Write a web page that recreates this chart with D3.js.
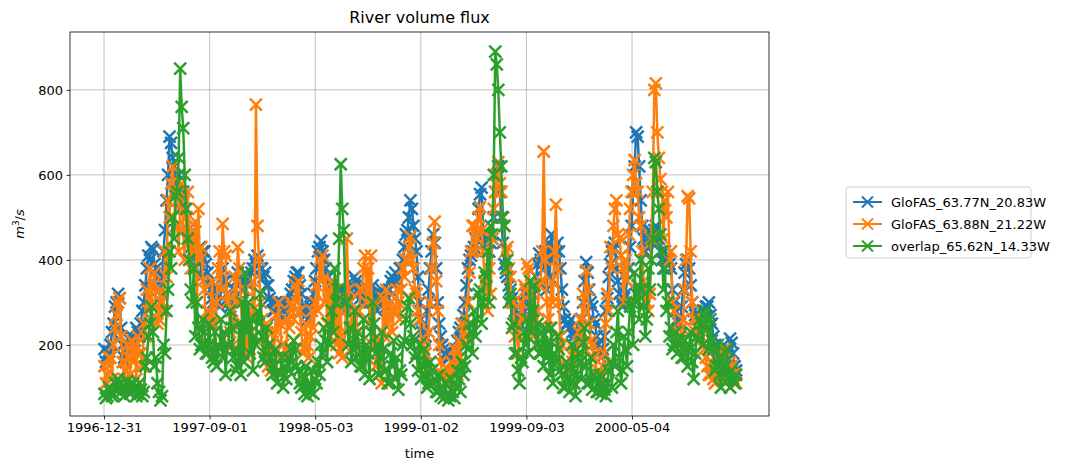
<!DOCTYPE html>
<html>
<head>
<meta charset="utf-8">
<script src="https://cdn.jsdelivr.net/npm/d3@7"></script>
<style>
  body { margin: 0; background: #fff; }
  svg { font-family: 'DejaVu Sans', sans-serif; }
</style>
</head>
<body>
<svg id="chart" width="1075" height="470"></svg>
<script>
// half-weekly samples starting 1997-01-01, 20 values (10 weeks) per row
const startDate = '1997-01-01';
const stepDays = 3.5;

const seriesNames = ['GloFAS_63.77N_20.83W', 'GloFAS_63.88N_21.22W', 'overlap_65.62N_14.33W'];
const seriesColors = ['#1f77b4', '#ff7f0e', '#2ca02c'];

const glofasA = [
  190, 160, 175, 185, 200, 230, 250, 290, 300, 320, 310, 240, 200, 170, 160, 190, 190, 210, 220, 200,
  210, 240, 230, 220, 250, 280, 300, 340, 380, 410, 400, 430, 425, 390, 380, 340, 330, 300, 360, 420,
  470, 540, 600, 690, 675, 640, 620, 580, 560, 600, 520, 560, 560, 520, 500, 470, 450, 430, 420, 440,
  380, 410, 400, 430, 360, 420, 420, 390, 370, 340, 330, 310, 300, 340, 320, 300, 290, 330, 380, 350,
  350, 320, 300, 290, 280, 310, 330, 350, 370, 340, 350, 330, 330, 350, 360, 340, 340, 370, 380, 400,
  390, 410, 400, 380, 380, 360, 370, 340, 340, 310, 300, 280, 280, 300, 270, 290, 290, 300, 260, 280,
  280, 300, 300, 320, 330, 350, 360, 370, 370, 340, 320, 290, 280, 270, 260, 280, 290, 300, 320, 350,
  380, 420, 430, 445, 420, 400, 380, 360, 360, 340, 340, 320, 320, 300, 300, 330, 330, 310, 290, 280,
  310, 320, 330, 340, 340, 360, 350, 330, 330, 310, 300, 320, 340, 330, 310, 300, 320, 340, 300, 320,
  280, 300, 310, 330, 300, 320, 290, 310, 330, 350, 360, 340, 370, 350, 350, 380, 380, 400, 430, 460,
  470, 500, 540, 520, 480, 450, 420, 360, 300, 260, 230, 210, 220, 280, 330, 380, 420, 460, 440, 380,
  300, 250, 220, 200, 190, 180, 180, 170, 170, 160, 160, 180, 190, 210, 230, 240, 250, 270, 300, 340,
  380, 400, 410, 420, 430, 450, 470, 520, 555, 570, 460, 440, 440, 460, 420, 440, 450, 500, 560, 600,
  620, 560, 500, 440, 390, 370, 360, 340, 330, 310, 300, 280, 270, 260, 250, 270, 280, 300, 320, 330,
  290, 280, 300, 320, 330, 360, 390, 415, 400, 390, 380, 420, 330, 440, 360, 460, 400, 430, 420, 440,
  420, 380, 330, 290, 260, 250, 250, 240, 260, 230, 220, 230, 230, 220, 210, 260, 300, 350, 395, 370,
  330, 300, 290, 260, 250, 220, 200, 190, 170, 190, 220, 280, 310, 360, 390, 420, 430, 440, 380, 350,
  320, 300, 290, 310, 320, 350, 380, 430, 480, 560, 620, 700, 690, 620, 540, 480, 450, 420, 430, 460,
  470, 450, 460, 470, 480, 440, 450, 420, 400, 380, 420, 410, 400, 390, 380, 330, 300, 280, 260, 250,
  250, 290, 330, 370, 390, 400, 380, 340, 300, 280, 270, 260, 250, 270, 260, 280, 270, 290, 290, 300,
  270, 250, 220, 200, 190, 185, 180, 175, 170, 180, 160, 190, 190, 215, 205, 180, 150, 140
];

const glofasB = [
  150, 110, 130, 170, 170, 120, 200, 240, 270, 300, 310, 220, 160, 120, 140, 200, 170, 130, 210, 160,
  200, 120, 220, 180, 180, 150, 250, 220, 330, 280, 380, 300, 340, 370, 290, 250, 260, 330, 300, 280,
  420, 360, 540, 500, 580, 620, 560, 480, 480, 420, 530, 580, 470, 400, 500, 560, 440, 380, 470, 420,
  490, 300, 520, 400, 430, 350, 330, 250, 280, 200, 270, 350, 250, 190, 300, 380, 420, 330, 485, 420,
  410, 300, 320, 230, 280, 200, 360, 300, 430, 380, 300, 250, 200, 330, 170, 280, 190, 230, 350, 260,
  765, 480, 400, 300, 260, 220, 190, 250, 150, 200, 140, 230, 180, 270, 230, 300, 250, 200, 200, 170,
  190, 260, 240, 300, 290, 260, 340, 300, 350, 280, 230, 180, 190, 250, 200, 170, 220, 280, 240, 300,
  340, 280, 400, 350, 410, 300, 360, 250, 330, 220, 350, 240, 330, 200, 300, 180, 280, 170, 200, 230,
  450, 330, 300, 240, 260, 200, 240, 280, 280, 330, 330, 380, 410, 300, 380, 250, 410, 200, 300, 150,
  220, 130, 200, 110, 310, 220, 330, 250, 260, 300, 230, 280, 280, 330, 300, 260, 330, 380, 360, 400,
  400, 430, 455, 400, 380, 330, 320, 280, 260, 200, 200, 150, 180, 140, 230, 300, 380, 440, 490, 350,
  280, 200, 160, 130, 130, 115, 115, 140, 120, 160, 140, 190, 170, 130, 210, 170, 250, 200, 220, 260,
  300, 370, 420, 480, 480, 420, 450, 500, 525, 470, 420, 350, 340, 280, 380, 320, 450, 520, 560, 600,
  630, 580, 560, 500, 480, 420, 430, 380, 360, 300, 300, 220, 250, 180, 220, 300, 260, 340, 330, 390,
  380, 320, 300, 220, 260, 200, 280, 340, 350, 420, 655, 400, 300, 260, 240, 350, 300, 420, 530, 380,
  300, 220, 200, 150, 150, 120, 120, 110, 200, 160, 170, 190, 190, 230, 260, 200, 320, 280, 375, 330,
  250, 210, 200, 170, 180, 130, 140, 110, 130, 150, 180, 250, 320, 280, 430, 380, 480, 520, 540, 460,
  450, 410, 380, 300, 400, 350, 460, 520, 560, 600, 635, 580, 560, 500, 480, 420, 350, 300, 300, 280,
  320, 450, 560, 800, 815, 700, 640, 590, 560, 450, 540, 500, 560, 400, 420, 300, 280, 230, 230, 200,
  210, 240, 260, 330, 400, 550, 545, 420, 300, 260, 230, 260, 210, 250, 220, 240, 190, 170, 150, 130,
  130, 160, 120, 110, 150, 180, 140, 120, 160, 190, 140, 120, 120, 160, 150, 130, 130, 110
];

const overlap = [
  85, 75, 80, 100, 90, 80, 85, 110, 95, 120, 110, 90, 100, 80, 95, 115, 105, 85, 90, 110,
  100, 80, 85, 110, 95, 80, 90, 150, 170, 220, 250, 290, 230, 150, 170, 110, 90, 70, 80, 200,
  180, 280, 330, 420, 380, 500, 450, 550, 560, 640, 850, 760, 710, 600, 520, 450, 400, 330, 300, 380,
  220, 300, 240, 190, 200, 260, 230, 180, 180, 250, 200, 170, 160, 230, 150, 200, 190, 260, 170, 230,
  130, 200, 200, 280, 240, 170, 190, 140, 150, 250, 130, 300, 160, 370, 230, 300, 180, 260, 140, 220,
  200, 280, 250, 320, 220, 170, 160, 240, 200, 170, 170, 130, 150, 190, 110, 140, 130, 170, 100, 150,
  120, 170, 140, 190, 160, 210, 190, 150, 140, 110, 100, 130, 85, 150, 80, 110, 90, 140, 85, 120,
  110, 160, 130, 200, 180, 240, 210, 160, 250, 200, 280, 230, 380, 300, 330, 450, 625, 520, 470, 300,
  300, 200, 240, 160, 190, 280, 170, 230, 200, 150, 150, 260, 130, 200, 180, 120, 230, 300, 250, 180,
  200, 130, 170, 230, 190, 140, 140, 110, 110, 180, 150, 210, 120, 170, 95, 140, 130, 200, 210, 260,
  290, 310, 250, 200, 220, 170, 180, 140, 200, 120, 150, 190, 130, 100, 110, 160, 140, 110, 120, 90,
  90, 130, 80, 100, 75, 110, 85, 70, 80, 120, 90, 75, 100, 140, 120, 90, 160, 130, 150, 200,
  190, 250, 230, 180, 280, 220, 260, 320, 330, 250, 300, 370, 360, 420, 300, 480, 460, 600, 890, 860,
  800, 700, 620, 500, 480, 380, 400, 300, 320, 240, 250, 180, 180, 140, 110, 170, 160, 230, 200, 260,
  180, 350, 230, 280, 340, 200, 250, 180, 180, 230, 150, 240, 170, 210, 130, 240, 110, 180, 160, 220,
  190, 140, 130, 100, 100, 160, 120, 90, 150, 200, 110, 80, 130, 180, 160, 120, 205, 240, 150, 110,
  110, 170, 95, 130, 120, 90, 90, 130, 85, 110, 95, 80, 110, 140, 160, 100, 200, 150, 230, 280,
  170, 110, 140, 220, 190, 150, 230, 290, 300, 200, 370, 300, 340, 260, 400, 330, 290, 220, 260, 380,
  330, 400, 450, 640, 630, 560, 520, 460, 420, 330, 380, 280, 300, 220, 240, 190, 200, 230, 180, 210,
  220, 170, 170, 210, 190, 150, 200, 230, 160, 120, 180, 220, 210, 260, 250, 200, 270, 280, 240, 190,
  260, 210, 190, 140, 150, 200, 130, 100, 170, 130, 150, 190, 120, 100, 140, 120, 110, 130
];

const xTickLabels = ['1996-12-31', '1997-09-01', '1998-05-03', '1999-01-02', '1999-09-03', '2000-05-04'];
const yTickValues = [200, 400, 600, 800];

const margin = {top: 32, right: 306, bottom: 54, left: 70};
const width = 1075 - margin.left - margin.right;
const height = 470 - margin.top - margin.bottom;

const parse = d3.utcParse('%Y-%m-%d');
const day = 864e5;
const t0 = parse(startDate);

/**
 *  Build date/value pairs for one series.
 *  @param {number[]} values half-weekly values
 *  @return {object[]} points
 */
function toPoints(values) {
  return values.map((v, i) => ({date: new Date(+t0 + i * stepDays * day), value: v}));
}

const allSeries = [glofasA, glofasB, overlap].map((vals, i) => ({
  name: seriesNames[i],
  color: seriesColors[i],
  points: toPoints(vals),
}));

const ref = parse(xTickLabels[0]);
const x = d3.scaleUtc()
    .domain([new Date(+ref - 78.6 * day), new Date(+ref + 1536.5 * day)])
    .range([0, width]);
const y = d3.scaleLinear()
    .domain([33, 936])
    .range([height, 0]);

const svg = d3.select('#chart');
const g = svg.append('g')
    .attr('transform', `translate(${margin.left},${margin.top})`);

// grid
g.append('g').selectAll('line')
    .data(xTickLabels.map(parse))
    .enter().append('line')
    .attr('x1', (d) => x(d)).attr('x2', (d) => x(d))
    .attr('y1', 0).attr('y2', height)
    .style('stroke', '#b0b0b0').style('stroke-width', 0.8);
g.append('g').selectAll('line')
    .data(yTickValues)
    .enter().append('line')
    .attr('y1', (d) => y(d)).attr('y2', (d) => y(d))
    .attr('x1', 0).attr('x2', width)
    .style('stroke', '#b0b0b0').style('stroke-width', 0.8);

const line = d3.line()
    .x((d) => x(d.date))
    .y((d) => y(d.value));

g.append('clipPath').attr('id', 'plotclip')
    .append('rect').attr('width', width).attr('height', height);

const plot = g.append('g').attr('clip-path', 'url(#plotclip)');

const ms = 6;
const xMarker = `M${-ms},${-ms}L${ms},${ms}M${-ms},${ms}L${ms},${-ms}`;

allSeries.forEach((s) => {
  const sg = plot.append('g');
  sg.append('path')
      .datum(s.points)
      .attr('d', line)
      .style('fill', 'none')
      .style('stroke', s.color)
      .style('stroke-width', 2.5)
      .style('stroke-linejoin', 'round');
  sg.selectAll('path.mk')
      .data(s.points)
      .enter().append('path')
      .attr('class', 'mk')
      .attr('transform', (d) => `translate(${x(d.date)},${y(d.value)})`)
      .attr('d', xMarker)
      .style('stroke', s.color)
      .style('stroke-width', 2.5);
});

// axes
const xAxis = d3.axisBottom(x)
    .tickValues(xTickLabels.map(parse))
    .tickFormat(d3.utcFormat('%Y-%m-%d'))
    .tickSize(3.5).tickPadding(3.5);
const yAxis = d3.axisLeft(y)
    .tickValues(yTickValues)
    .tickSize(3.5).tickPadding(3.5);

g.append('g').attr('transform', `translate(0,${height})`).call(xAxis);
g.append('g').call(yAxis);
g.selectAll('.domain').remove();
g.selectAll('.tick line').style('stroke', '#000').style('stroke-width', 0.8);
g.selectAll('.tick text')
    .style('font-family', 'DejaVu Sans')
    .style('font-size', '13px')
    .style('fill', '#000');

g.append('rect')
    .attr('width', width).attr('height', height)
    .style('fill', 'none').style('stroke', '#000').style('stroke-width', 0.8);

// labels
svg.append('text')
    .attr('x', margin.left + width / 2).attr('y', 23)
    .attr('text-anchor', 'middle')
    .style('font-size', '16px')
    .text('River volume flux');

svg.append('text')
    .attr('x', margin.left + width / 2).attr('y', 458)
    .attr('text-anchor', 'middle')
    .style('font-size', '13px')
    .text('time');

const yl = svg.append('text')
    .attr('transform', `translate(24,${margin.top + height / 2}) rotate(-90)`)
    .attr('text-anchor', 'middle')
    .style('font-size', '13px');
yl.append('tspan').style('font-style', 'italic').text('m');
yl.append('tspan').attr('dy', -5).style('font-size', '9px').text('3');
yl.append('tspan').attr('dy', 5).text('/');
yl.append('tspan').style('font-style', 'italic').text('s');

// legend
const lg = svg.append('g').attr('transform', 'translate(846,187)');
lg.append('rect')
    .attr('width', 185).attr('height', 71)
    .attr('rx', 3)
    .style('fill', '#fff').style('stroke', '#d0d0d0').style('stroke-width', 1);
const items = lg.selectAll('g.item')
    .data(allSeries)
    .enter().append('g')
    .attr('class', 'item')
    .attr('transform', (d, i) => `translate(0,${15 + i * 22})`);
items.append('line')
    .attr('x1', 7).attr('x2', 36)
    .style('stroke', (d) => d.color).style('stroke-width', 2);
items.append('path')
    .attr('transform', 'translate(21.5,0)')
    .attr('d', `M-5.5,-5.5L5.5,5.5M-5.5,5.5L5.5,-5.5`)
    .style('stroke', (d) => d.color).style('stroke-width', 2);
items.append('text')
    .attr('x', 45).attr('dy', '0.35em')
    .style('font-size', '13px')
    .text((d) => d.name);
</script>
</body>
</html>
